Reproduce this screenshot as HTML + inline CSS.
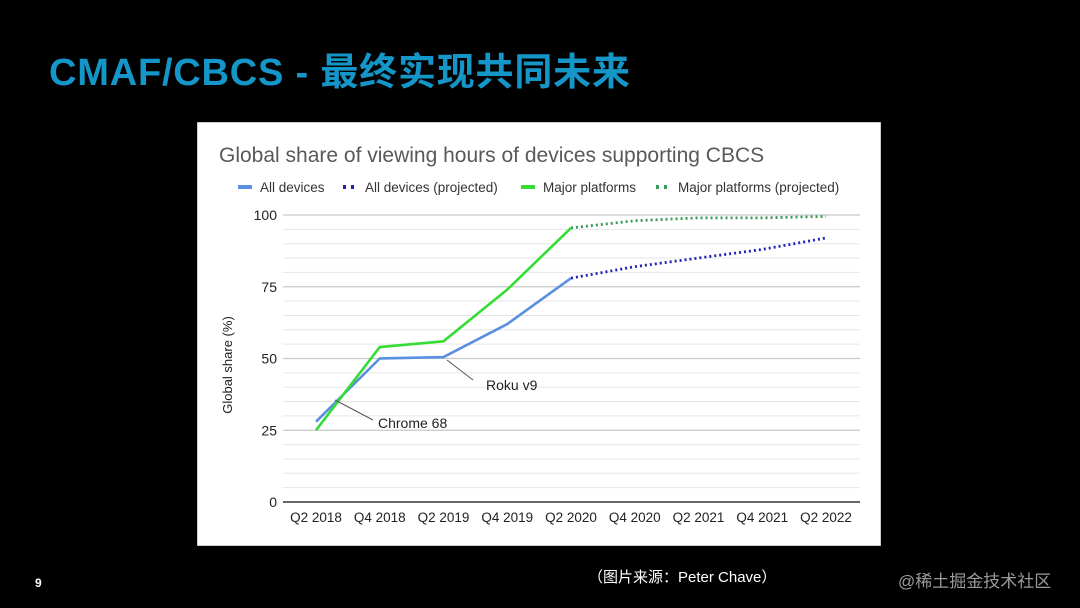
<!DOCTYPE html>
<html><head><meta charset="utf-8"><style>
html,body{margin:0;padding:0;background:#000;}
body{width:1080px;height:608px;position:relative;overflow:hidden;font-family:"Liberation Sans","Noto Sans CJK SC",sans-serif;}
.title{position:absolute;left:49px;top:41px;font-size:38px;font-weight:bold;color:#1596c8;white-space:nowrap;letter-spacing:0.8px}
.pg{position:absolute;left:35px;top:576px;color:#fff;font-size:12px;font-weight:bold}
.src{position:absolute;left:588px;top:566px;color:#fff;font-size:15px}
.wm{position:absolute;left:898px;top:567px;color:#9a9a9a;font-size:17px}
#chart{position:absolute;left:197px;top:122px}
</style></head><body>
<div class="title">CMAF/CBCS - 最终实现共同未来</div>
<div class="pg">9</div>
<div class="src">（图片来源：Peter Chave）</div>
<div class="wm">@稀土掘金技术社区</div>
<svg id="chart" width="684" height="424" font-family="Liberation Sans, sans-serif">
<rect x="0" y="0" width="684" height="424" fill="#fff" stroke="#999"/>
<text x="22" y="40" font-size="21" fill="#595959">Global share of viewing hours of devices supporting CBCS</text>
<g id="grid"></g><g id="axes"></g><g id="series"></g><g id="legend"></g>
<text transform="translate(35,243) rotate(-90)" text-anchor="middle" font-size="13" fill="#222">Global share (%)</text>
<line x1="250" y1="238" x2="276" y2="258" stroke="#555"/>
<text x="289" y="268" font-size="14" fill="#222">Roku v9</text>
<line x1="138" y1="278" x2="176" y2="298" stroke="#555"/>
<text x="181" y="306" font-size="14" fill="#222">Chrome 68</text>
</svg>
<script>
const categories=["Q2 2018","Q4 2018","Q2 2019","Q4 2019","Q2 2020","Q4 2020","Q2 2021","Q4 2021","Q2 2022"];
const allDevices=[28,50,50.5,62,78,null,null,null,null];
const allDevicesProj=[null,null,null,null,78,82,85,88,92];
const majorPlatforms=[25,54,56,74,95.5,null,null,null,null];
const majorPlatformsProj=[null,null,null,null,95.5,98,99,99,99.5];
const yTicks=[0,25,50,75,100];
const NS="http://www.w3.org/2000/svg";
const x0=119,dx=63.75,yBase=380,yTop=93;
const X=i=>x0+i*dx, Y=v=>yBase-(v/100)*(yBase-yTop);
function mk(tag,attrs,parent){const e=document.createElementNS(NS,tag);for(const k in attrs)e.setAttribute(k,attrs[k]);parent.appendChild(e);return e;}
const grid=document.getElementById('grid'),axes=document.getElementById('axes'),ser=document.getElementById('series'),leg=document.getElementById('legend');
for(let v=5;v<100;v+=5){if(v%25===0)continue;const l=mk('line',{x1:86,x2:663,y1:Y(v),y2:Y(v),stroke:'#e6e6e6','stroke-width':1},grid);

}
yTicks.forEach(v=>{const l=mk('line',{x1:86,x2:663,y1:Y(v),y2:Y(v),stroke:v===0?'#333':'#c8c8c8','stroke-width':v===0?1.5:1.2},grid);


const t=mk('text',{x:80,y:Y(v)+5,'text-anchor':'end','font-size':14,fill:'#222'},axes);t.textContent=v;

});
categories.forEach((c,i)=>{const t=mk('text',{x:X(i),y:400,'text-anchor':'middle','font-size':13.5,fill:'#222'},axes);t.textContent=c;

});
function line(arr,color,dash,name){let pts=[];arr.forEach((v,i)=>{if(v!=null)pts.push(X(i)+','+Y(v));});
const p=mk('polyline',{points:pts.join(' '),fill:'none',stroke:color,'stroke-width':dash?2.8:2.6,'stroke-dasharray':dash||'none','stroke-linejoin':'round'},ser);

}
line(allDevices,'#5b8fe0',null,'all-devices-line');
line(allDevicesProj,'#2222bb','2 3','all-devices-projected-line');
line(majorPlatforms,'#33dd33',null,'major-platforms-line');
line(majorPlatformsProj,'#3a9a55','2 3','major-platforms-projected-line');
const legItems=[[41,'#5b8fe0',null,'All devices'],[146,'#2222bb','3 5','All devices (projected)'],[324,'#33dd33',null,'Major platforms'],[459,'#3a9a55','3 5','Major platforms (projected)']];
legItems.forEach(([x,c,d,label])=>{const g=mk('g',{},leg);


mk('line',{x1:x,x2:x+14,y1:65,y2:65,stroke:c,'stroke-width':4,'stroke-dasharray':d||'none'},g);
const t=mk('text',{x:x+22,y:70,'font-size':13.5,fill:'#333'},g);t.textContent=label;});
</script>
</body></html>
